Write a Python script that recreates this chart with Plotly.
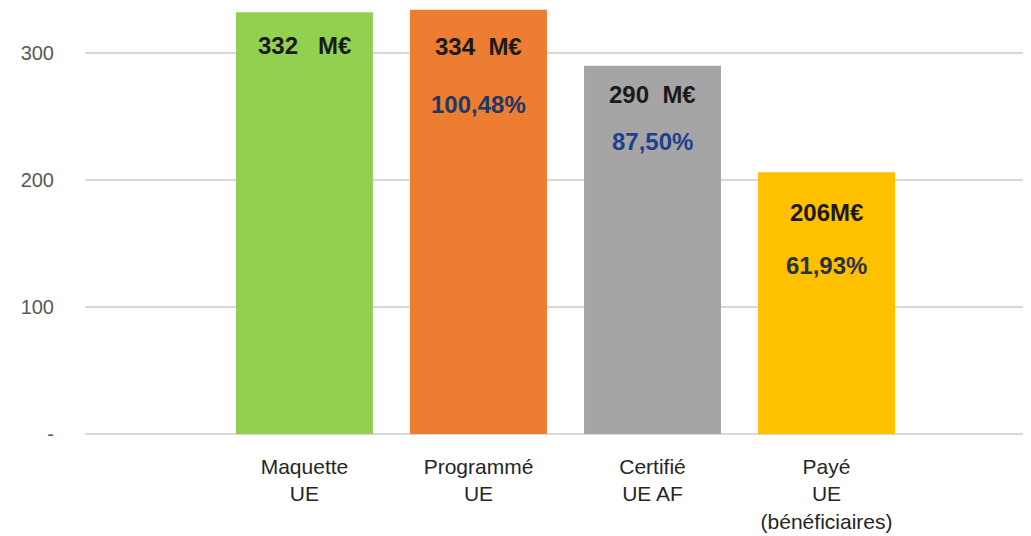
import plotly.graph_objects as go

categories = ["Maquette<br>UE", "Programmé<br>UE", "Certifié<br>UE AF", "Payé<br>UE<br>(bénéficiaires)"]
values = [332, 334, 290, 206]
amount_labels = ["332   M€", "334  M€", "290  M€", "206M€"]
percent_labels = ["", "100,48%", "87,50%", "61,93%"]
y_tickvals = [0, 100, 200, 300]
y_ticktext = ["-", "100", "200", "300"]

# styling
bar_colors = ["#92D050", "#ED7D31", "#A5A5A5", "#FFC000"]
pct_colors = ["#1F3864", "#203864", "#1F3F8F", "#2B3340"]
amount_shift = [-33, -37, -29, -40]
pct_shift = [0, -95, -76, -93]

fig = go.Figure()
fig.add_trace(go.Bar(
    x=categories, y=values, marker=dict(color=bar_colors, line=dict(width=0)),
    width=0.787, hoverinfo="skip"))

label_font = "Liberation Sans Narrow, Arial Narrow, sans-serif"
for c, v, a, p, pc, s1, s2 in zip(categories, values, amount_labels, percent_labels,
                                  pct_colors, amount_shift, pct_shift):
    fig.add_annotation(x=c, y=v, text="<b>" + a + "</b>", showarrow=False,
                       yanchor="middle", yshift=s1,
                       font=dict(family=label_font, size=24, color="#1a1a1a"))
    if p:
        fig.add_annotation(x=c, y=v, text="<b>" + p + "</b>", showarrow=False,
                           yanchor="middle", yshift=s2,
                           font=dict(family=label_font, size=24, color=pc))

fig.update_layout(
    width=1023, height=528,
    margin=dict(l=77, r=0, t=0, b=102),
    plot_bgcolor="white", paper_bgcolor="white",
    showlegend=False,
    bargap=0.2,
)
fig.update_xaxes(
    range=[-1.261, 4.175], showgrid=False, zeroline=False, showline=False, ticks="",
    tickfont=dict(family="Liberation Sans, Arial, sans-serif", size=21, color="#262626"),
    ticklabelstandoff=18,
)
fig.update_yaxes(
    range=[0, 335.4], tickvals=y_tickvals, ticktext=y_ticktext,
    showgrid=True, gridcolor="#D9D9D9", gridwidth=2,
    zeroline=True, zerolinecolor="#D9D9D9", zerolinewidth=2,
    showline=False, ticks="",
    tickfont=dict(family="Liberation Sans, Arial, sans-serif", size=20, color="#595959"),
    ticklabelstandoff=30,
)

fig.write_html("out.html")
